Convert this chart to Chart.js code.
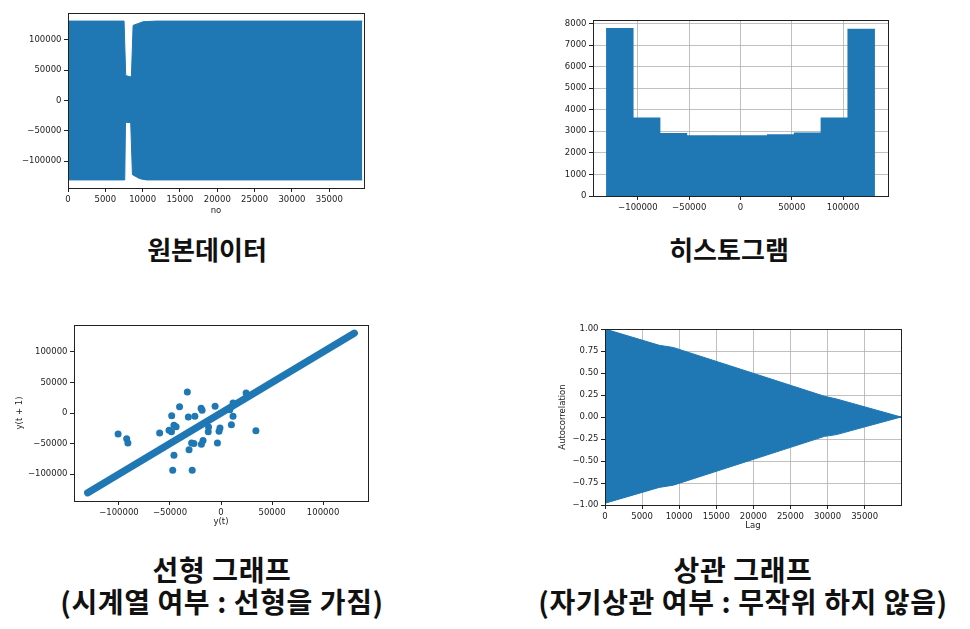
<!DOCTYPE html>
<html>
<head>
<meta charset="utf-8">
<script src="https://cdn.jsdelivr.net/npm/chart.js@4.4.1/dist/chart.umd.min.js"></script>
<style>
    body { margin: 0; background: #fff; }
    #page { position: relative; width: 970px; height: 629px; overflow: hidden; background: #fff; }
    #page canvas { position: absolute; }
    .cap {
        position: absolute;
        font-family: 'Noto Sans CJK KR', sans-serif;
        font-weight: 700;
        color: #111;
        white-space: nowrap;
        line-height: 1;
        transform: translateX(-50%);
    }
    .cap.big { font-size: 28px; letter-spacing: 0.6px; }
</style>
</head>
<body>
<div id="page">
    <canvas id="rawChart" width="370" height="220" style="left:0;top:0"></canvas>
    <canvas id="histChart" width="360" height="225" style="left:540px;top:0"></canvas>
    <canvas id="lagChart" width="380" height="230" style="left:0;top:310px"></canvas>
    <canvas id="acfChart" width="380" height="230" style="left:540px;top:310px"></canvas>

    <div class="cap" style="left:207px;top:236px;font-size:26px">원본데이터</div>
    <div class="cap" style="left:729px;top:236px;font-size:26px">히스토그램</div>
    <div class="cap big" style="left:222px;top:555px">선형 그래프</div>
    <div class="cap big" style="left:222px;top:587px">(시계열 여부 : 선형을 가짐)</div>
    <div class="cap big" style="left:743px;top:555px">상관 그래프</div>
    <div class="cap big" style="left:743px;top:587px">(자기상관 여부 : 무작위 하지 않음)</div>
</div>

<script>
// --- datos ---

// 원본데이터: envolvente de la señal (no, valor)
const rawUpperX = [0, 7510, 7730, 8490, 8720, 10060, 11850, 39420];
const rawUpperY = [130700, 130700, 41000, 38500, 123600, 129700, 130700, 130700];
const rawLowerX = [0, 7600, 7700, 8400, 8630, 9610, 10500, 39420];
const rawLowerY = [-130700, -130700, -35700, -36500, -122000, -128600, -130700, -130700];
const rawTicksX = [0, 5000, 10000, 15000, 20000, 25000, 30000, 35000];
const rawTicksY = [-100000, -50000, 0, 50000, 100000];

// 히스토그램
const histEdges = [-130700, -104560, -78420, -52280, -26140, 0, 26140, 52280, 78420, 104560, 130700];
const histCounts = [7770, 3620, 2910, 2800, 2800, 2800, 2850, 2925, 3620, 7740];
const histTicksX = [-100000, -50000, 0, 50000, 100000];
const histTicksY = [0, 1000, 2000, 3000, 4000, 5000, 6000, 7000, 8000];

// 선형 그래프 (lag plot)
const lagLineX = [-130700, 130700];
const lagLineY = [-130700, 130700];
const lagOutX = [-100800, -92400, -91200, -60100, -50900, -48500, -48300, -46100, -44000, -40600, -33000,
                 -46100, -47300, -28200, -31300, -28800, -26500, -32000, -25600, -19500, -18500, -19200,
                 -17600, -12200, -12500, -5800, -3500, -1900, -1000, 8600, 10200, 11800, 34200, 24600, 11800];
const lagOutY = [-34300, -42000, -49000, -32700, -28300, -30500, -4400, -20200, -22500, 10400, 34300,
                 -69200, -93700, -93700, -60000, -49000, -50000, -6500, -5400, 7600, 4500, -51200,
                 -45200, -22900, -30500, 10900, -49000, -30000, -24500, 5400, -19100, -5400, -28900, 32700, 16300];
const lagTicks = [-100000, -50000, 0, 50000, 100000];

// 상관 그래프 (autocorrelation)
const acfX = [0, 7300, 9200, 29600, 31200, 39900];
const acfUpper = [1.0, 0.815, 0.79, 0.235, 0.205, 0.0];
const acfLower = [-0.98, -0.80, -0.775, -0.22, -0.20, 0.0];
const acfZeroX = [0, 39900];
const acfZeroY = [0, 0];
const acfTicksX = [0, 5000, 10000, 15000, 20000, 25000, 30000, 35000];
const acfTicksY = [-1, -0.75, -0.5, -0.25, 0, 0.25, 0.5, 0.75, 1];

// --- estilo ---
const C0 = '#1f77b4';
const INK = '#222';
const FONT = { family: 'DejaVu Sans', size: 8.5 };
const minus = v => String(v).replace('-', '\u2212');

Chart.defaults.font.family = 'DejaVu Sans';
Chart.defaults.animation = false;
Chart.defaults.events = [];

const pts = (xs, ys) => xs.map((x, i) => ({ x, y: ys[i] }));

// marco completo alrededor del área (como matplotlib)
const framePlugin = {
    id: 'frame',
    afterDraw(chart) {
        const { ctx, chartArea: a } = chart;
        ctx.save();
        ctx.strokeStyle = INK;
        ctx.lineWidth = 1;
        ctx.strokeRect(Math.round(a.left) + 0.5, Math.round(a.top) + 0.5,
            Math.round(a.right - a.left), Math.round(a.bottom - a.top));
        ctx.restore();
    }
};

function axis(ticks, min, max, o) {
    return {
        type: 'linear',
        min, max,
        offset: false,
        afterBuildTicks: s => { s.ticks = ticks.map(v => ({ value: v })); },
        afterFit: s => {
            if (o.w !== undefined) s.width = o.w;
            if (o.h !== undefined) s.height = o.h;
        },
        grid: {
            display: true,
            drawOnChartArea: !!o.grid,
            color: '#b0b0b0',
            lineWidth: 0.8,
            drawTicks: true,
            tickLength: 4,
            tickColor: INK,
            tickWidth: 1,
            offset: false
        },
        border: { display: false },
        ticks: {
            color: INK,
            font: FONT,
            padding: 2.5,
            maxRotation: 0,
            autoSkip: false,
            callback: o.fmt || minus
        },
        title: o.title
            ? { display: true, text: o.title, color: INK, font: FONT, padding: { top: o.tpad, bottom: o.tpad } }
            : { display: false },
        z: o.z || 0
    };
}

const baseOpts = (pad, scales) => ({
    responsive: false,
    devicePixelRatio: 1,
    layout: { padding: pad },
    plugins: { legend: { display: false }, tooltip: { enabled: false } },
    scales
});

// 1) 원본데이터
new Chart(document.getElementById('rawChart'), {
    type: 'line',
    data: {
        datasets: [
            { data: pts(rawUpperX, rawUpperY), borderColor: C0, backgroundColor: C0, borderWidth: 1, pointRadius: 0, fill: '+1' },
            { data: pts(rawLowerX, rawLowerY), borderColor: C0, backgroundColor: C0, borderWidth: 1, pointRadius: 0, fill: false }
        ]
    },
    options: baseOpts({ top: 13, right: 6, left: 0, bottom: 0 }, {
        x: axis(rawTicksX, 0, 39650, { h: 32, title: 'no', tpad: 4.2 }),
        y: axis(rawTicksY, -144000, 144000, { w: 68 })
    }),
    plugins: [framePlugin]
});

// 2) 히스토그램
new Chart(document.getElementById('histChart'), {
    type: 'bar',
    data: {
        datasets: [{
            data: histCounts.map((c, i) => ({ x: (histEdges[i] + histEdges[i + 1]) / 2, y: c })),
            backgroundColor: C0,
            borderWidth: 0,
            barPercentage: 1,
            categoryPercentage: 1
        }]
    },
    options: baseOpts({ top: 20, right: 12, left: 0, bottom: 0 }, {
        x: axis(histTicksX, -143770, 143770, { h: 29, grid: true, z: 1 }),
        y: axis(histTicksY, 0, 8160, { w: 53, grid: true, z: 1 })
    }),
    plugins: [framePlugin]
});

// 3) 선형 그래프
new Chart(document.getElementById('lagChart'), {
    type: 'line',
    data: {
        datasets: [
            { data: pts(lagOutX, lagOutY), showLine: false, pointRadius: 3.5, pointBackgroundColor: C0, pointBorderWidth: 0 },
            { data: pts(lagLineX, lagLineY), borderColor: C0, borderWidth: 7, borderCapStyle: 'round', pointRadius: 0 }
        ]
    },
    options: baseOpts({ top: 15, right: 12, left: 0, bottom: 0 }, {
        x: axis(lagTicks, -144000, 144000, { h: 39, title: 'y(t)', tpad: 13.2 }),
        y: axis(lagTicks, -144000, 144000, { w: 74, title: 'y(t + 1)', tpad: 15 })
    }),
    plugins: [framePlugin]
});

// 4) 상관 그래프
new Chart(document.getElementById('acfChart'), {
    type: 'line',
    data: {
        datasets: [
            { data: pts(acfX, acfUpper), borderColor: C0, backgroundColor: C0, borderWidth: 1, pointRadius: 0, fill: '+1' },
            { data: pts(acfX, acfLower), borderColor: C0, backgroundColor: C0, borderWidth: 1, pointRadius: 0, fill: false },
            { data: pts(acfZeroX, acfZeroY), borderColor: '#000', borderWidth: 1, pointRadius: 0, fill: false }
        ]
    },
    options: baseOpts({ top: 19, right: 19, left: 0, bottom: 0 }, {
        x: axis(acfTicksX, 0, 39900, { h: 35, grid: true, title: 'Lag', tpad: 8.9 }),
        y: axis(acfTicksY, -1, 1, { w: 65, grid: true, title: 'Autocorrelation', tpad: 17.6,
            fmt: v => minus(v.toFixed(2)) })
    }),
    plugins: [framePlugin]
});
</script>
</body>
</html>
